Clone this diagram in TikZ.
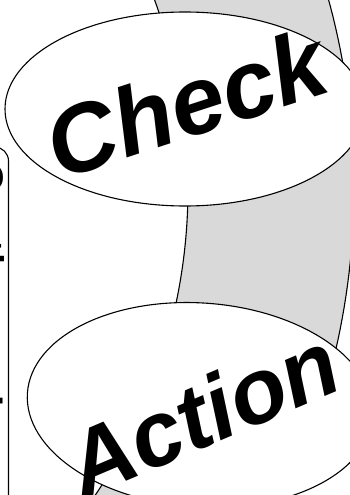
\documentclass[tikz,border=0pt]{standalone}
\usepackage{fontspec}
\setmainfont{Liberation Sans}
\definecolor{bandgray}{RGB}{217,217,217}
\begin{document}
\begin{tikzpicture}[x=1pt,y=-1pt,
  outline/.style={draw=black, line width=1.1pt},
  biglabel/.style={font=\fontsize{96}{96}\selectfont\bfseries\itshape, inner sep=0pt},
  sidelabel/.style={font=\fontsize{40}{40}\selectfont\bfseries, inner sep=0pt}]
\useasboundingbox (0,0) rectangle (350,495);
\clip (0,0) rectangle (350,495);
% curved cycle band
\fill[bandgray] plot[domain=-40:40,samples=90] ({-364+552*cos(\x)},{189+552*sin(\x)})
  -- plot[domain=40:-40,samples=90] ({-364+718*cos(\x)},{189+718*sin(\x)}) -- cycle;
\draw[outline] plot[domain=-40:40,samples=90] ({-364+552*cos(\x)},{189+552*sin(\x)});
\draw[outline] plot[domain=-40:40,samples=90] ({-364+718*cos(\x)},{189+718*sin(\x)});
% left box with vertical text
\draw[outline, fill=white, rounded corners=14pt] (-70,147) rectangle (8.5,560);
\node[sidelabel, rotate=-90, anchor=north west] (side) at (4.5,162) {Continuous Improvement};
% Check ellipse
\draw[outline, fill=white] (185,109) ellipse [x radius=180pt, y radius=97pt];
\node[biglabel, rotate=18] (check) at (186,103) {Check};
% Action ellipse
\draw[outline, fill=white, rotate around={-4:(200,405)}] (200,405) ellipse [x radius=173pt, y radius=102pt];
\node[biglabel, rotate=23, font=\fontsize{92}{92}\selectfont\bfseries\itshape] (action) at (202,413) {Action};
\end{tikzpicture}
\end{document}
